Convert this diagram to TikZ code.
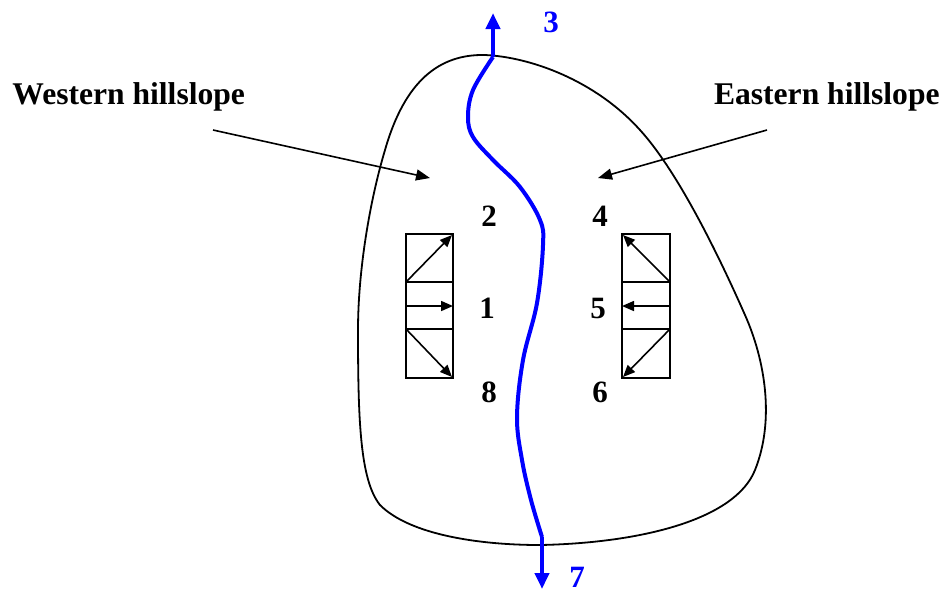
\documentclass[tikz,border=0pt]{standalone}
\usepackage{fontspec}
\setmainfont{Liberation Serif}
\usetikzlibrary{arrows.meta}
\definecolor{riverblue}{RGB}{0,0,255}
\tikzset{
  lbl/.style={font=\fontsize{15.8}{18}\selectfont\bfseries, inner sep=0pt},
  num/.style={font=\fontsize{15.5}{18}\selectfont\bfseries, inner sep=0pt},
  bnum/.style={num, text=riverblue},
  pointer/.style={line width=0.8pt, -{Triangle[length=7pt,width=5.5pt]}},
  cell/.style={line width=1pt},
  cellarrow/.style={line width=0.8pt, -{Triangle[length=6pt,width=5pt]}},
  river/.style={riverblue, line width=2pt},
  riverarrow/.style={riverblue, line width=2pt, -{Triangle[length=8pt,width=7pt]}}
}
\begin{document}
\begin{tikzpicture}[x=0.5pt,y=-0.5pt]
\useasboundingbox (0,0) rectangle (945,591);
% catchment outline
\draw[line width=0.9pt] (485,55)
  .. controls (440,54) and (405,80) .. (385,150)
  .. controls (370,200) and (358,270) .. (358,330)
  .. controls (358,420) and (360,480) .. (380,505)
  .. controls (410,535) and (480,545) .. (540,545)
  .. controls (640,543) and (735,520) .. (755,470)
  .. controls (775,420) and (765,360) .. (745,315)
  .. controls (722,263) and (680,174) .. (640,130)
  .. controls (595,80) and (530,57) .. (485,55) -- cycle;
% river
\coordinate (rtop) at (493,57);
\coordinate (rbot) at (542,537);
\coordinate (r3) at (493,13);
\coordinate (r7) at (542,589);
\draw[river] plot[smooth, tension=0.6] coordinates {
 (493,57) (473,90) (468,117) (473,137) (493,160) (520,187) (540,220)
 (543,245) (537,303) (523,360) (517,417) (522,460) (531,500) (542,537)};
\draw[riverarrow] (rtop) -- (r3);
\draw[riverarrow] (rbot) -- (r7);
\node[bnum] (n3) at (551,22) {3};
\node[bnum] (n7) at (577,577) {7};
% labels
\node[lbl, anchor=west] (west) at (12,97) {Western hillslope};
\node[lbl, anchor=east] (east) at (940,97) {Eastern hillslope};
\coordinate (wstart) at (213,130);
\coordinate (wend) at (430,178);
\coordinate (estart) at (767,130);
\coordinate (eend) at (598,178);
\draw[pointer] (wstart) -- (wend);
\draw[pointer] (estart) -- (eend);
% numbers
\node[num] (n2) at (489,216) {2};
\node[num] (n4) at (600,216) {4};
\node[num] (n1) at (487,308) {1};
\node[num] (n5) at (598,308) {5};
\node[num] (n8) at (489,392) {8};
\node[num] (n6) at (600,392) {6};
% left box
\draw[cell] (406,234) rectangle (453,378);
\draw[cell] (406,282) -- (453,282);
\draw[cell] (406,329) -- (453,329);
\draw[cellarrow] (406,282) -- (452,235);
\draw[cellarrow] (406,306) -- (453,306);
\draw[cellarrow] (406,329) -- (452,377);
% right box
\draw[cell] (622,234) rectangle (670,378);
\draw[cell] (622,282) -- (670,282);
\draw[cell] (622,329) -- (670,329);
\draw[cellarrow] (670,282) -- (623,235);
\draw[cellarrow] (670,306) -- (622,306);
\draw[cellarrow] (670,329) -- (623,377);
\end{tikzpicture}
\end{document}
